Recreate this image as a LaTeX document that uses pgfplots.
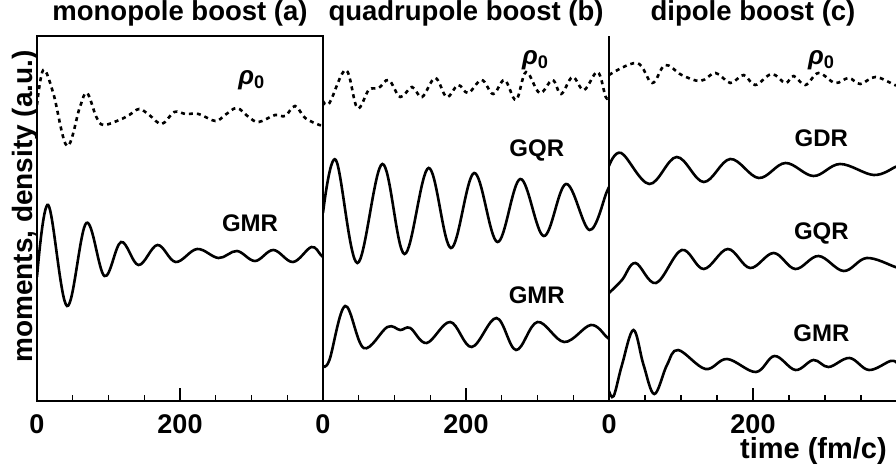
\documentclass[border=0pt]{standalone}
\usepackage{fontspec}
\setmainfont{Liberation Sans}
\usepackage{pgfplots}
\pgfplotsset{compat=1.18}
\newcommand{\fs}[1]{\fontsize{#1}{#1}\selectfont\bfseries}
\tikzset{lab/.style={font=\fs{24}}, rlab/.style={font=\fs{26}}}
\pgfplotsset{
  panel/.style={
    scale only axis, width=286pt, height=365pt,
    xmin=0, xmax=400, ymin=0, ymax=365,
    clip mode=individual,
    ytick=\empty, xtick={0,200}, minor xtick={50,100,150,250,300,350},
    tick align=inside, xtick pos=bottom,
    major tick length=13pt, minor tick length=6pt,
    every tick/.style={line width=1.2pt, black},
    axis line style={-, line width=1.2pt},
    xticklabel style={font=\fs{27}, anchor=base, yshift=-32pt, inner sep=0pt},
    /pgf/number format/assume math mode=true,
    title style={font=\fs{27.5}, at={(0.5,1)}, anchor=base, yshift=9pt},
    anchor=south west,
  },
  open/.style={axis x line*=bottom, axis y line*=left},
  solidc/.style={line width=2.6pt, black, smooth, tension=0.6, mark=none},
  dotc/.style={line width=2.6pt, black, dash pattern=on 4pt off 4pt, smooth, tension=0.6, mark=none},
}
\begin{document}
\begin{tikzpicture}
\path[use as bounding box] (0,0) rectangle (896pt,466pt);
% ---------------- panel (a)
\begin{axis}[panel, at={(37pt,65pt)}, title={monopole boost (a)}]
\addplot[dotc] coordinates {
(0,296) (8.8,331) (22.7,308) (42,255) (60,294) (70,308) (83,284) (93,276)
(115,281) (129,286) (143,292) (157,286) (174.5,277) (192,289) (208,287)
(226,287) (249.5,280) (263,286) (279.6,293) (296,284) (310,279) (333,286)
(347,285) (361,295) (375,283) (395,276) (400,276)};
\addplot[solidc] coordinates {
(0,124) (15.7,196) (42,95) (69,178) (94.4,125) (117.6,159) (142,136)
(168.5,156) (194,139) (224,152) (254,143) (279.6,150) (305,140) (330.6,151)
(358,139) (383.8,154) (397,146) (400,144)};
\node[rlab] at (axis cs:300,321) {\itshape ρ\textsubscript{\upshape 0}};
\node[lab] at (axis cs:298,178) {GMR};
\node[font=\fs{28}, xshift=-5pt, rotate=90, anchor=base] at (rel axis cs:0,0.533) {moments, density (a.u.)};
\end{axis}
% ---------------- panel (b)
\begin{axis}[panel, open, at={(323pt,65pt)}, title={quadrupole boost (b)}]
\addplot[dotc] coordinates {
(0,300) (9,298) (32,331) (48,293) (64,311) (78,313) (92,321) (108,304)
(124.5,314) (138.5,304) (157,323) (173,304) (189,316) (203,308) (222,321)
(238,307) (254,321) (270,301) (284,329) (303,308) (321,321) (333,307)
(349,324) (365,311) (384,329) (395.4,304) (400,304)};
\addplot[solidc] coordinates {
(0,188) (18,241) (48,138) (83,237) (114,147) (147.7,233) (179,153)
(211.5,228) (244,159) (276,222) (308.8,165) (340,217) (372.7,171) (396.8,209) (400,214)};
\addplot[solidc] coordinates {
(0,35) (9,41) (31,95) (57,53) (90,74) (108,71) (122,73) (145,58) (178,79)
(208,54) (242.6,83) (270,51) (300,79) (337.5,59) (374.6,76) (396.8,64) (400,62)};
\node[rlab] at (axis cs:297,341) {\itshape ρ\textsubscript{\upshape 0}};
\node[lab] at (axis cs:299,251) {GQR};
\node[lab] at (axis cs:299,106) {GMR};
\end{axis}
% ---------------- panel (c)
\begin{axis}[panel, open, width=288pt, at={(609pt,65pt)}, title={dipole boost (c)}]
\addplot[dotc] coordinates {
(0,326) (39,338) (60,318) (78,336) (101,326) (127,320) (148,328) (168.5,318)
(187,326) (203,316) (226,327) (245,318) (256.5,325) (272.7,316) (291,328)
(314,318) (333,323) (349,317) (370,324) (397,316) (400,316)};
\addplot[solidc] coordinates {
(0,235) (17,248) (56,217) (94,244) (131.5,219) (168.5,242) (208,223)
(245,238) (284,225) (321,237) (367.6,226) (397.7,234) (400,235)};
\addplot[solidc] coordinates {
(0,108) (18,121) (36.6,138) (65.3,118) (101,151) (131.5,132) (165,152)
(196,133) (228.7,148) (258.8,132) (291,145) (326,130) (358,143) (397.7,134) (400,134)};
\addplot[solidc] coordinates {
(0,10) (6.5,5) (18,36) (34,71) (48,36) (63,7) (80.5,36) (96,51) (134,32)
(164,42) (204,29) (230,45) (259,31) (284,41) (305,34) (334,43) (361,31)
(391,40) (400,38)};
\node[rlab] at (axis cs:295,341) {\itshape ρ\textsubscript{\upshape 0}};
\node[lab] at (axis cs:295,263) {GDR};
\node[lab] at (axis cs:295,168) {GQR};
\node[lab] at (axis cs:295,68) {GMR};
\end{axis}
\node[font=\fs{29}, anchor=base east, inner sep=1pt] at (888pt,8pt) {time (fm/c)};
\end{tikzpicture}
\end{document}
